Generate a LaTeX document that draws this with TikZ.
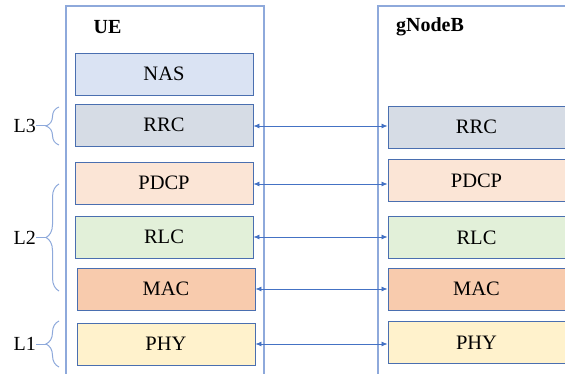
\documentclass[tikz,border=0pt]{standalone}
\usepackage{fontspec}
\setmainfont{Liberation Serif}
\usetikzlibrary{arrows.meta,decorations.pathreplacing}

\definecolor{frameblue}{HTML}{8EA9DB}
\definecolor{edgeblue}{HTML}{4A6FB0}
\definecolor{arrowblue}{HTML}{4472C4}
\definecolor{nasfill}{HTML}{DAE3F3}
\definecolor{rrcfill}{HTML}{D6DCE5}
\definecolor{pdcpfill}{HTML}{FBE5D6}
\definecolor{rlcfill}{HTML}{E2F0D9}
\definecolor{macfill}{HTML}{F8CBAD}
\definecolor{phyfill}{HTML}{FFF2CC}

\tikzset{
  layerbox/.style={draw=edgeblue, line width=0.9pt, minimum width=178pt,
    minimum height=42pt, inner sep=0pt, font=\fontsize{20.5}{24}\selectfont},
  frame/.style={draw=frameblue, line width=1.3pt},
  link/.style={draw=arrowblue, line width=0.8pt,
    {Latex[length=6pt,width=5pt]}-{Latex[length=6pt,width=5pt]}},
  bracket/.style={draw=frameblue, line width=1pt, decorate,
    decoration={brace, amplitude=13pt, aspect=0.5}},
  tick/.style={draw=frameblue, line width=1pt},
  stacklabel/.style={font=\bfseries\fontsize{20}{24}\selectfont, inner sep=0pt},
  layerlabel/.style={font=\fontsize{20}{24}\selectfont, inner sep=0pt, anchor=east}
}

\begin{document}
\begin{tikzpicture}[x=1pt, y=-1pt]
  \useasboundingbox (0,0) rectangle (565,374);
  \clip (0,0) rectangle (565,374);

  % protocol stack frames
  \draw[frame] (66,380) -- (66,6) -- (264,6) -- (264,380);
  \draw[frame] (378,380) -- (378,6) -- (600,6);
  \node[stacklabel] (ue) at (107.5,27) {UE};
  \node[stacklabel] (gnb) at (430,27) {gNodeB};

  % UE side layers
  \node[layerbox, fill=nasfill]  (ue-nas)  at (164,74)  {NAS};
  \node[layerbox, fill=rrcfill]  (ue-rrc)  at (164,125) {RRC};
  \node[layerbox, fill=pdcpfill] (ue-pdcp) at (164,183) {PDCP};
  \node[layerbox, fill=rlcfill]  (ue-rlc)  at (164,237) {RLC};
  \node[layerbox, fill=macfill]  (ue-mac)  at (166,289) {MAC};
  \node[layerbox, fill=phyfill]  (ue-phy)  at (166,344) {PHY};

  % gNodeB side layers
  \node[layerbox, fill=rrcfill,  minimum width=182pt] (gnb-rrc)  at (479,127)   {\hspace*{-5pt}RRC};
  \node[layerbox, fill=pdcpfill, minimum width=182pt] (gnb-pdcp) at (479,180.5) {\hspace*{-5pt}PDCP};
  \node[layerbox, fill=rlcfill,  minimum width=182pt] (gnb-rlc)  at (479,237.5) {\hspace*{-5pt}RLC};
  \node[layerbox, fill=macfill,  minimum width=182pt] (gnb-mac)  at (479,289)   {\hspace*{-5pt}MAC};
  \node[layerbox, fill=phyfill,  minimum width=182pt] (gnb-phy)  at (479,342.5) {\hspace*{-5pt}PHY};

  % peer-to-peer links (kept horizontal)
  \draw[link] ([yshift=-1pt]ue-rrc.east) -- ([yshift=-1pt]ue-rrc.east -| gnb-rrc.west);
  \draw[link] ([yshift=-1pt]ue-pdcp.east) -- ([yshift=-1pt]ue-pdcp.east -| gnb-pdcp.west);
  \draw[link] (ue-rlc.east)  -- (ue-rlc.east -| gnb-rlc.west);
  \draw[link] (ue-mac.east)  -- (ue-mac.east -| gnb-mac.west);
  \draw[link] (ue-phy.east)  -- (ue-phy.east -| gnb-phy.west);

  % layer groupings
  \draw[bracket] (59,145) -- (59,107);
  \draw[bracket] (59,291) -- (59,184);
  \draw[bracket] (59,367) -- (59,321);
  \node[layerlabel] (l3) at (36,126) {L3};
  \node[layerlabel] (l2) at (36,237.5) {L2};
  \node[layerlabel] (l1) at (36,344) {L1};
  \draw[tick] (l3.east) -- ++(10.5,0);
  \draw[tick] (l2.east) -- ++(10.5,0);
  \draw[tick] (l1.east) -- ++(10.5,0);
\end{tikzpicture}
\end{document}
